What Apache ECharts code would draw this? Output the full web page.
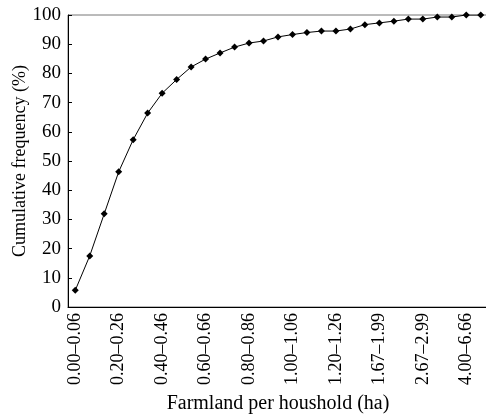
<!DOCTYPE html>
<html>
<head>
<meta charset="utf-8">
<script src="https://cdn.jsdelivr.net/npm/echarts@6/dist/echarts.min.js"></script>
<style>
html, body { margin: 0; padding: 0; background: #fff; }
#chart { width: 486px; height: 419px; }
</style>
</head>
<body>
<div id="chart"></div>
<script>
// farmland size classes (ha), only every third one is labelled
var classes = ['0.00–0.06', '0.07–0.13', '0.14–0.19', '0.20–0.26', '0.27–0.33', '0.34–0.39',
    '0.40–0.46', '0.47–0.53', '0.54–0.59', '0.60–0.66', '0.67–0.73', '0.74–0.79',
    '0.80–0.86', '0.87–0.93', '0.94–0.99', '1.00–1.06', '1.07–1.13', '1.14–1.19',
    '1.20–1.26', '1.27–1.33', '1.34–1.66', '1.67–1.99', '2.00–2.33', '2.34–2.66',
    '2.67–2.99', '3.00–3.33', '3.34–3.99', '4.00–6.66', '>6.66'];
// cumulative frequency (%)
var cumFreq = [5.7, 17.5, 31.9, 46.3, 57.3, 66.4, 73.2, 77.9, 82.2, 84.9, 87.0, 89.0,
    90.4, 91.1, 92.5, 93.3, 94.0, 94.5, 94.5, 95.2, 96.7, 97.3, 97.9, 98.6, 98.6,
    99.3, 99.3, 100, 100];
var yTicks = { min: 0, max: 100, step: 10 };

var serif = 'Liberation Serif';
var chart = echarts.init(document.getElementById('chart'));
var option = {
    animation: false,
    backgroundColor: '#fff',
    grid: {
        left: 68, top: 15, bottom: 112, width: 420,
        outerBoundsMode: 'none',
        show: true, borderColor: '#777', borderWidth: 1
    },
    xAxis: {
        type: 'category',
        data: classes,
        boundaryGap: true,
        name: 'Farmland per houshold (ha)',
        nameLocation: 'middle',
        nameGap: 87,
        nameMoveOverlap: false,
        nameTextStyle: { fontFamily: serif, fontSize: 20, color: '#000' },
        axisLine: { lineStyle: { color: '#000', width: 1 } },
        axisTick: { inside: true, length: 5, interval: 0, lineStyle: { color: '#000' } },
        axisLabel: {
            interval: 2, rotate: 90, margin: 6,
            fontFamily: serif, fontSize: 18, color: '#000'
        },
        splitLine: { show: false }
    },
    yAxis: {
        type: 'value',
        min: yTicks.min, max: yTicks.max, interval: yTicks.step,
        name: 'Cumulative frequency (%)',
        nameLocation: 'middle',
        nameGap: 39,
        nameMoveOverlap: false,
        nameTextStyle: { fontFamily: serif, fontSize: 18, color: '#000' },
        axisLine: { show: true, lineStyle: { color: '#000', width: 1 } },
        axisTick: { show: true, inside: true, length: 4, lineStyle: { color: '#000' } },
        axisLabel: { margin: 7, fontFamily: serif, fontSize: 19, color: '#000' },
        splitLine: { show: false }
    },
    series: [{
        type: 'line',
        data: cumFreq,
        symbol: 'diamond',
        symbolSize: 7,
        lineStyle: { color: '#000', width: 1 },
        itemStyle: { color: '#000' }
    }]
};
chart.setOption(option);
</script>
</body>
</html>
